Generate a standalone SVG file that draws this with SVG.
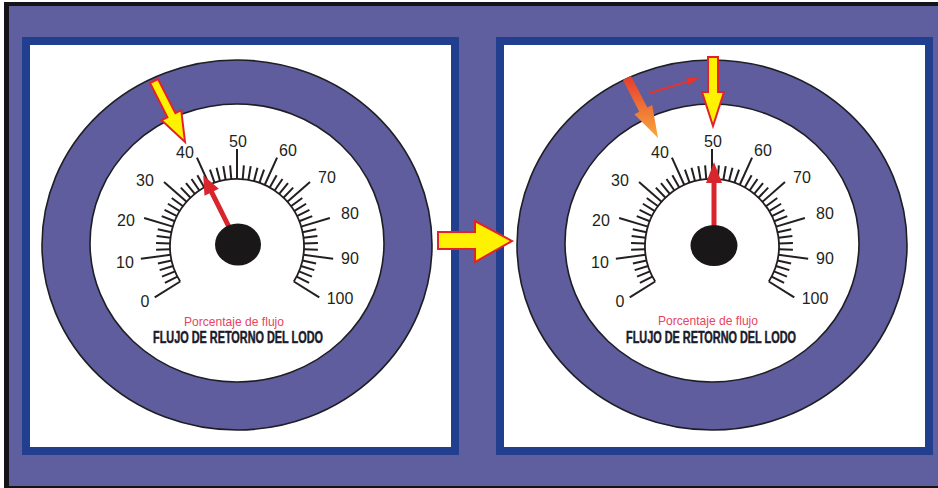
<svg xmlns="http://www.w3.org/2000/svg" xmlns:xlink="http://www.w3.org/1999/xlink" width="938" height="488" viewBox="0 0 938 488">
<style>
.panel{fill:#ffffff;stroke:#213f8e;stroke-width:8}
.ring{fill:#5f5d9d;stroke:#1e1e24;stroke-width:1.6}
.face{fill:#ffffff;stroke:#1e1e24;stroke-width:1.6}
.tk{stroke:#231f20;stroke-width:2}
.arc{fill:none;stroke:#231f20;stroke-width:1.8}
.lbl{font-family:"Liberation Sans",Arial,sans-serif;font-size:16px;fill:#231f20;text-anchor:middle}
.sub{font-family:"Liberation Sans",Arial,sans-serif;font-size:13px;fill:#e8445f;text-anchor:middle}
.ttl{font-family:"Liberation Sans",Arial,sans-serif;font-size:16px;font-weight:bold;fill:#1b1b2b;stroke:#1b1b2b;stroke-width:0.5;text-anchor:middle}
.hub{fill:#1a1718}
.ndl{fill:#d8262d;stroke:none}
.yarrow{fill:#fff200;stroke:#e4202a;stroke-width:2;stroke-linejoin:miter}
</style>
<defs>
<linearGradient id="og" x1="0" y1="0" x2="0" y2="1">
<stop offset="0" stop-color="#e63b2e"/>
<stop offset="1" stop-color="#f9a83a"/>
</linearGradient>
<g id="dial">
<ellipse class="ring" cx="0" cy="-1" rx="195" ry="185"/>
<ellipse class="face" cx="0" cy="-3" rx="147" ry="139"/>
<path class="arc" d="M -56.8 35.5 A 67 67 0 1 1 56.8 35.5"/>
<g class="tk">
<line x1="0" y1="-67" x2="0" y2="-97" transform="rotate(-122)"/>
<line x1="0" y1="-67" x2="0" y2="-81" transform="rotate(-117.12)"/>
<line x1="0" y1="-67" x2="0" y2="-81" transform="rotate(-112.24)"/>
<line x1="0" y1="-67" x2="0" y2="-81" transform="rotate(-107.36)"/>
<line x1="0" y1="-67" x2="0" y2="-81" transform="rotate(-102.48)"/>
<line x1="0" y1="-67" x2="0" y2="-97" transform="rotate(-97.6)"/>
<line x1="0" y1="-67" x2="0" y2="-81" transform="rotate(-92.72)"/>
<line x1="0" y1="-67" x2="0" y2="-81" transform="rotate(-87.84)"/>
<line x1="0" y1="-67" x2="0" y2="-81" transform="rotate(-82.96)"/>
<line x1="0" y1="-67" x2="0" y2="-81" transform="rotate(-78.08)"/>
<line x1="0" y1="-67" x2="0" y2="-97" transform="rotate(-73.2)"/>
<line x1="0" y1="-67" x2="0" y2="-81" transform="rotate(-68.32)"/>
<line x1="0" y1="-67" x2="0" y2="-81" transform="rotate(-63.44)"/>
<line x1="0" y1="-67" x2="0" y2="-81" transform="rotate(-58.56)"/>
<line x1="0" y1="-67" x2="0" y2="-81" transform="rotate(-53.68)"/>
<line x1="0" y1="-67" x2="0" y2="-97" transform="rotate(-48.8)"/>
<line x1="0" y1="-67" x2="0" y2="-81" transform="rotate(-43.92)"/>
<line x1="0" y1="-67" x2="0" y2="-81" transform="rotate(-39.04)"/>
<line x1="0" y1="-67" x2="0" y2="-81" transform="rotate(-34.16)"/>
<line x1="0" y1="-67" x2="0" y2="-81" transform="rotate(-29.28)"/>
<line x1="0" y1="-67" x2="0" y2="-97" transform="rotate(-24.4)"/>
<line x1="0" y1="-67" x2="0" y2="-81" transform="rotate(-19.52)"/>
<line x1="0" y1="-67" x2="0" y2="-81" transform="rotate(-14.64)"/>
<line x1="0" y1="-67" x2="0" y2="-81" transform="rotate(-9.76)"/>
<line x1="0" y1="-67" x2="0" y2="-81" transform="rotate(-4.88)"/>
<line x1="0" y1="-67" x2="0" y2="-97"/>
<line x1="0" y1="-67" x2="0" y2="-81" transform="rotate(4.88)"/>
<line x1="0" y1="-67" x2="0" y2="-81" transform="rotate(9.76)"/>
<line x1="0" y1="-67" x2="0" y2="-81" transform="rotate(14.64)"/>
<line x1="0" y1="-67" x2="0" y2="-81" transform="rotate(19.52)"/>
<line x1="0" y1="-67" x2="0" y2="-97" transform="rotate(24.4)"/>
<line x1="0" y1="-67" x2="0" y2="-81" transform="rotate(29.28)"/>
<line x1="0" y1="-67" x2="0" y2="-81" transform="rotate(34.16)"/>
<line x1="0" y1="-67" x2="0" y2="-81" transform="rotate(39.04)"/>
<line x1="0" y1="-67" x2="0" y2="-81" transform="rotate(43.92)"/>
<line x1="0" y1="-67" x2="0" y2="-97" transform="rotate(48.8)"/>
<line x1="0" y1="-67" x2="0" y2="-81" transform="rotate(53.68)"/>
<line x1="0" y1="-67" x2="0" y2="-81" transform="rotate(58.56)"/>
<line x1="0" y1="-67" x2="0" y2="-81" transform="rotate(63.44)"/>
<line x1="0" y1="-67" x2="0" y2="-81" transform="rotate(68.32)"/>
<line x1="0" y1="-67" x2="0" y2="-97" transform="rotate(73.2)"/>
<line x1="0" y1="-67" x2="0" y2="-81" transform="rotate(78.08)"/>
<line x1="0" y1="-67" x2="0" y2="-81" transform="rotate(82.96)"/>
<line x1="0" y1="-67" x2="0" y2="-81" transform="rotate(87.84)"/>
<line x1="0" y1="-67" x2="0" y2="-81" transform="rotate(92.72)"/>
<line x1="0" y1="-67" x2="0" y2="-97" transform="rotate(97.6)"/>
<line x1="0" y1="-67" x2="0" y2="-81" transform="rotate(102.48)"/>
<line x1="0" y1="-67" x2="0" y2="-81" transform="rotate(107.36)"/>
<line x1="0" y1="-67" x2="0" y2="-81" transform="rotate(112.24)"/>
<line x1="0" y1="-67" x2="0" y2="-81" transform="rotate(117.12)"/>
<line x1="0" y1="-67" x2="0" y2="-97" transform="rotate(122)"/>
</g>
<g class="lbl">
<text x="-92" y="61">0</text>
<text x="-112" y="22">10</text>
<text x="-111" y="-20">20</text>
<text x="-92" y="-60">30</text>
<text x="-52" y="-88">40</text>
<text x="1" y="-99">50</text>
<text x="51" y="-90">60</text>
<text x="90" y="-63">70</text>
<text x="113" y="-27">80</text>
<text x="113" y="18">90</text>
<text x="103" y="58">100</text>
</g>
</g>
</defs>

<g id="background">
<rect x="0" y="0" width="938" height="488" fill="#ffffff"/>
<rect x="4" y="2" width="934" height="486" fill="#141418"/>
<rect x="9" y="6" width="929" height="480" fill="#5f5e9f"/>
</g>

<g id="panel-left">
<rect class="panel" x="26" y="41" width="429" height="410"/>
</g>
<g id="panel-right">
<rect class="panel" x="500" y="41" width="429" height="410"/>
</g>

<g id="gauge-left">
<use xlink:href="#dial" transform="translate(237,246)"/>
<g transform="rotate(-26.5,238,245)">
<rect class="ndl" x="235.5" y="183" width="5" height="62"/>
<polygon class="ndl" points="238,167 246,186 230,186"/>
</g>
<ellipse class="hub" cx="238" cy="244.5" rx="23" ry="21"/>
<text class="sub" x="234" y="326" textLength="100" lengthAdjust="spacingAndGlyphs">Porcentaje de flujo</text>
<text class="ttl" x="238" y="343" textLength="170" lengthAdjust="spacingAndGlyphs">FLUJO DE RETORNO DEL LODO</text>
</g>

<g id="gauge-right">
<use xlink:href="#dial" transform="translate(712,246)"/>
<rect class="ndl" x="711.5" y="180" width="5" height="64"/>
<polygon class="ndl" points="714,162 722,183 706,183"/>
<ellipse class="hub" cx="714" cy="245.5" rx="23.5" ry="20.5"/>
<text class="sub" x="708" y="325" textLength="100" lengthAdjust="spacingAndGlyphs">Porcentaje de flujo</text>
<text class="ttl" x="711" y="343" textLength="170" lengthAdjust="spacingAndGlyphs">FLUJO DE RETORNO DEL LODO</text>
</g>

<g id="indicator-left">
<polygon class="yarrow" points="158,79 175.4,113.2 181.2,110.2 185,142 161.6,120.2 167.4,117.2 150,83"/>
</g>

<g id="indicator-right">
<polygon fill="url(#og)" points="631,75.9 647.3,107.5 652.2,105 658,138 634.4,114.2 639.3,111.7 623,80.1"/>
<line x1="650" y1="93" x2="688" y2="81.4" stroke="#e8322d" stroke-width="2"/>
<polygon fill="#e8322d" points="699,78 686.3,77.7 688.7,85.3"/>
<polygon class="yarrow" points="708,57 718,57 718,92 724,92 713,126 702,92 708,92"/>
</g>

<g id="connectors">
<polygon class="yarrow" points="438,232 475,232 475,221 512,241 475,262 475,249 438,249"/>
</g>
</svg>
